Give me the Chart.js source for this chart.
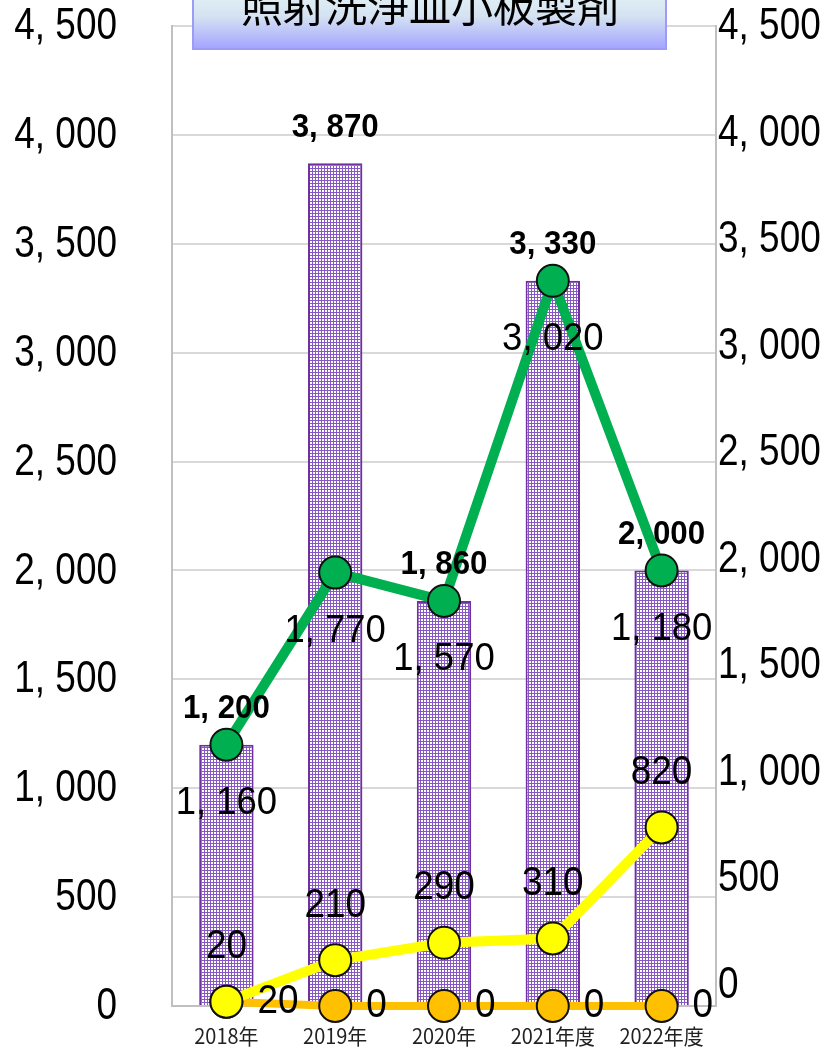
<!DOCTYPE html>
<html>
<head>
<meta charset="utf-8">
<script src="https://cdn.jsdelivr.net/npm/chart.js@4.4.0/dist/chart.umd.min.js"></script>
<style>
  body { margin: 0; background: #fff; }
  #wrap { width: 825px; height: 1047px; }
</style>
</head>
<body>
<div id="wrap"><canvas id="chart" width="825" height="1047"></canvas></div>
<script>
const categories = ['2018年', '2019年', '2020年', '2021年度', '2022年度'];
const barValues = [1200, 3870, 1860, 3330, 2000];
const greenValues = [1200, 1990, 1860, 3330, 2000];
const greenLabels = [1160, 1770, 1570, 3020, 1180];
const yellowValues = [20, 210, 290, 310, 820];
const orangeValues = [20, 0, 0, 0, 0];
const yTicks = [0, 500, 1000, 1500, 2000, 2500, 3000, 3500, 4000, 4500];
const chartTitle = '照射洗浄皿小板製剤';

function fmt(v) {
  return Number(v).toLocaleString('en-US').replace(',', ', ');
}

// narrow-looking text: draw squeezed horizontally
function squeezed(ctx, text, x, y, sx) {
  ctx.save();
  ctx.translate(x, y);
  ctx.scale(sx, 1);
  ctx.fillText(text, 0, 0);
  ctx.restore();
}

// dotted purple fill for the bars
function makePattern() {
  const c = document.createElement('canvas');
  c.width = 3; c.height = 3;
  const g = c.getContext('2d');
  g.fillStyle = '#8757c4';
  g.fillRect(0, 0, 3, 3);
  g.fillStyle = '#ffffff';
  g.fillRect(1, 1, 2, 2);
  return g.createPattern(c, 'repeat');
}

// axis labels drawn last so the markers at 0 don't cover them
const axisLabelPlugin = {
  id: 'axisLabels',
  afterDraw(chart) {
    const ctx = chart.ctx;
    ctx.save();
    ctx.fillStyle = '#000';
    ctx.font = "44px 'Liberation Sans', Arial, sans-serif";
    ctx.textBaseline = 'middle';
    const yl = chart.scales.y, yr = chart.scales.y2, xs = chart.scales.x;
    yTicks.forEach(v => {
      ctx.textAlign = 'right';
      squeezed(ctx, fmt(v), 117, yl.getPixelForValue(v) + 1, 0.84);
      ctx.textAlign = 'left';
      squeezed(ctx, fmt(v), 718, yr.getPixelForValue(v) + 1, 0.84);
    });
    ctx.fillStyle = '#222';
    ctx.font = "21px 'Noto Sans CJK JP', sans-serif";
    ctx.textAlign = 'center';
    categories.forEach((c, i) => {
      squeezed(ctx, c, xs.getPixelForValue(i), chart.chartArea.bottom + 30, 0.95);
    });
    ctx.restore();
  }
};

const labelPlugin = {
  id: 'valueLabels',
  afterDatasetsDraw(chart) {
    const ctx = chart.ctx;
    ctx.save();
    ctx.fillStyle = '#000';
    ctx.textBaseline = 'middle';
    ctx.textAlign = 'center';

    // bars: bold above the top
    ctx.font = "bold 34px 'Liberation Sans', Arial, sans-serif";
    chart.getDatasetMeta(0).data.forEach((el, i) => {
      squeezed(ctx, fmt(barValues[i]), el.x, el.y - 36, 0.92);
    });
    ctx.font = "38px 'Liberation Sans', Arial, sans-serif";
    // green: below the point
    chart.getDatasetMeta(1).data.forEach((el, i) => {
      squeezed(ctx, fmt(greenLabels[i]), el.x, el.y + 59, 0.96);
    });
    // yellow: above the point
    ctx.font = "41px 'Liberation Sans', Arial, sans-serif";
    chart.getDatasetMeta(3).data.forEach((el, i) => {
      squeezed(ctx, fmt(yellowValues[i]), el.x, el.y - 55, 0.9);
    });
    // orange: to the right
    ctx.textAlign = 'left';
    chart.getDatasetMeta(2).data.forEach((el, i) => {
      squeezed(ctx, fmt(orangeValues[i]), el.x + 31, el.y, 0.9);
    });
    ctx.restore();
  }
};

const titlePlugin = {
  id: 'titleBox',
  afterDraw(chart) {
    const ctx = chart.ctx;
    const x0 = 193, x1 = 666, y0 = -10, y1 = 49;
    ctx.save();
    const grad = ctx.createLinearGradient(0, y0, 0, y1);
    grad.addColorStop(0, '#e4f4f4');
    grad.addColorStop(0.45, '#d4e2f2');
    grad.addColorStop(1, '#a3a3ff');
    ctx.fillStyle = grad;
    ctx.fillRect(x0, y0, x1 - x0, y1 - y0);
    ctx.strokeStyle = '#9c9cf6';
    ctx.lineWidth = 2;
    ctx.strokeRect(x0, y0, x1 - x0, y1 - y0);
    ctx.fillStyle = '#000';
    ctx.font = "42px 'Noto Sans CJK JP', sans-serif";
    ctx.textAlign = 'center';
    ctx.textBaseline = 'middle';
    ctx.fillText(chartTitle, 430, 6);
    ctx.restore();
  }
};

function noPad(scale) {
  scale.paddingTop = 0;
  scale.paddingBottom = 0;
  scale.paddingLeft = 0;
  scale.paddingRight = 0;
}

const ctx = document.getElementById('chart').getContext('2d');
new Chart(ctx, {
  data: {
    labels: categories,
    datasets: [
      {
        type: 'bar',
        data: barValues,
        backgroundColor: makePattern(),
        borderColor: '#7030a0',
        borderWidth: 2,
        barPercentage: 0.5,
        categoryPercentage: 1,
        yAxisID: 'y',
        order: 4
      },
      {
        type: 'line',
        data: greenValues,
        borderColor: '#00b050',
        borderWidth: 10,
        pointRadius: 16,
        pointBackgroundColor: '#00b050',
        pointBorderColor: '#111',
        pointBorderWidth: 2,
        clip: false,
        yAxisID: 'y',
        order: 3
      },
      {
        type: 'line',
        data: orangeValues,
        borderColor: '#ffc000',
        borderWidth: 8,
        pointRadius: 16,
        pointBackgroundColor: '#ffc000',
        pointBorderColor: '#111',
        pointBorderWidth: 2,
        clip: false,
        yAxisID: 'y',
        order: 2
      },
      {
        type: 'line',
        data: yellowValues,
        borderColor: '#ffff00',
        borderWidth: 10,
        pointRadius: 16,
        pointBackgroundColor: '#ffff00',
        pointBorderColor: '#111',
        pointBorderWidth: 2,
        clip: false,
        yAxisID: 'y',
        order: 1
      }
    ]
  },
  plugins: [labelPlugin, axisLabelPlugin, titlePlugin],
  options: {
    responsive: false,
    animation: false,
    layout: { padding: { top: 26, left: 0, right: 0, bottom: 0 } },
    plugins: {
      legend: { display: false },
      tooltip: { enabled: false },
      title: { display: false }
    },
    scales: {
      x: {
        offset: true,
        grid: { display: false, drawTicks: false },
        border: { color: '#c0c0c0', width: 2 },
        ticks: { display: false },
        afterFit(scale) { scale.height = 41; noPad(scale); }
      },
      y: {
        position: 'left',
        min: 0,
        max: 4500,
        afterBuildTicks(scale) { scale.ticks = yTicks.map(v => ({ value: v })); },
        grid: { color: '#d9d9d9', lineWidth: 2, drawTicks: false },
        border: { color: '#c0c0c0', width: 2 },
        ticks: { display: false },
        afterFit(scale) { scale.width = 172; noPad(scale); }
      },
      y2: {
        position: 'right',
        min: -100,
        max: 4500,
        afterBuildTicks(scale) { scale.ticks = yTicks.map(v => ({ value: v })); },
        grid: { display: false, drawTicks: false },
        border: { color: '#c0c0c0', width: 2 },
        ticks: { display: false },
        afterFit(scale) { scale.width = 109; noPad(scale); }
      }
    }
  }
});
</script>
</body>
</html>
